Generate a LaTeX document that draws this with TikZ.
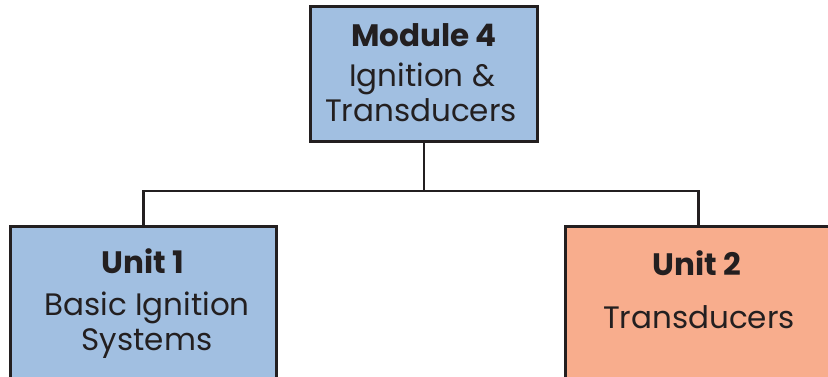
\documentclass[tikz,border=0pt]{standalone}
\usepackage{fontspec}
\setmainfont{Poppins}
\definecolor{boxblue}{HTML}{A1BFE1}
\definecolor{boxsalmon}{HTML}{F8AD8D}
\definecolor{inkdark}{HTML}{231F20}
\begin{document}
\begin{tikzpicture}[x=1pt,y=-1pt,
  box/.style={draw=inkdark,line width=2.8pt,inner sep=0pt,outer sep=0pt},
  conn/.style={draw=inkdark,line width=2.6pt},
  title/.style={anchor=base,inner sep=0pt,text=inkdark,font=\fontsize{31}{31}\selectfont\bfseries},
  body/.style={anchor=base,inner sep=0pt,text=inkdark,font=\fontsize{31}{31}\selectfont}]
\useasboundingbox (0,0) rectangle (828,376);
\clip (0,0) rectangle (828,376);
\node[box,fill=boxblue,minimum width=227pt,minimum height=135.4pt] (top) at (423.8,74) {};
\node[box,fill=boxblue,minimum width=265.9pt,minimum height=300pt] (u1) at (143.75,376.2) {};
\node[box,fill=boxsalmon,minimum width=265.9pt,minimum height=300pt] (u2) at (698.65,376.2) {};
\draw[conn] (top.south) -- ++(0,49.3) -| (u1.north);
\draw[conn] (top.south) -- ++(0,49.3) -| (u2.north);
\node[title] (t0) at (424,46) {Module 4};
\node[body] (t0a) at (422,86.7) {Ignition \&};
\node[body] (t0b) at (421,121.7) {Transducers};
\node[title] (t1) at (143,273.3) {Unit 1};
\node[body] (t1a) at (147,315) {Basic Ignition};
\node[body] (t1b) at (147,350) {Systems};
\node[title] (t2) at (697,275) {Unit 2};
\node[body] (t2a) at (699,328.3) {Transducers};
\end{tikzpicture}
\end{document}
